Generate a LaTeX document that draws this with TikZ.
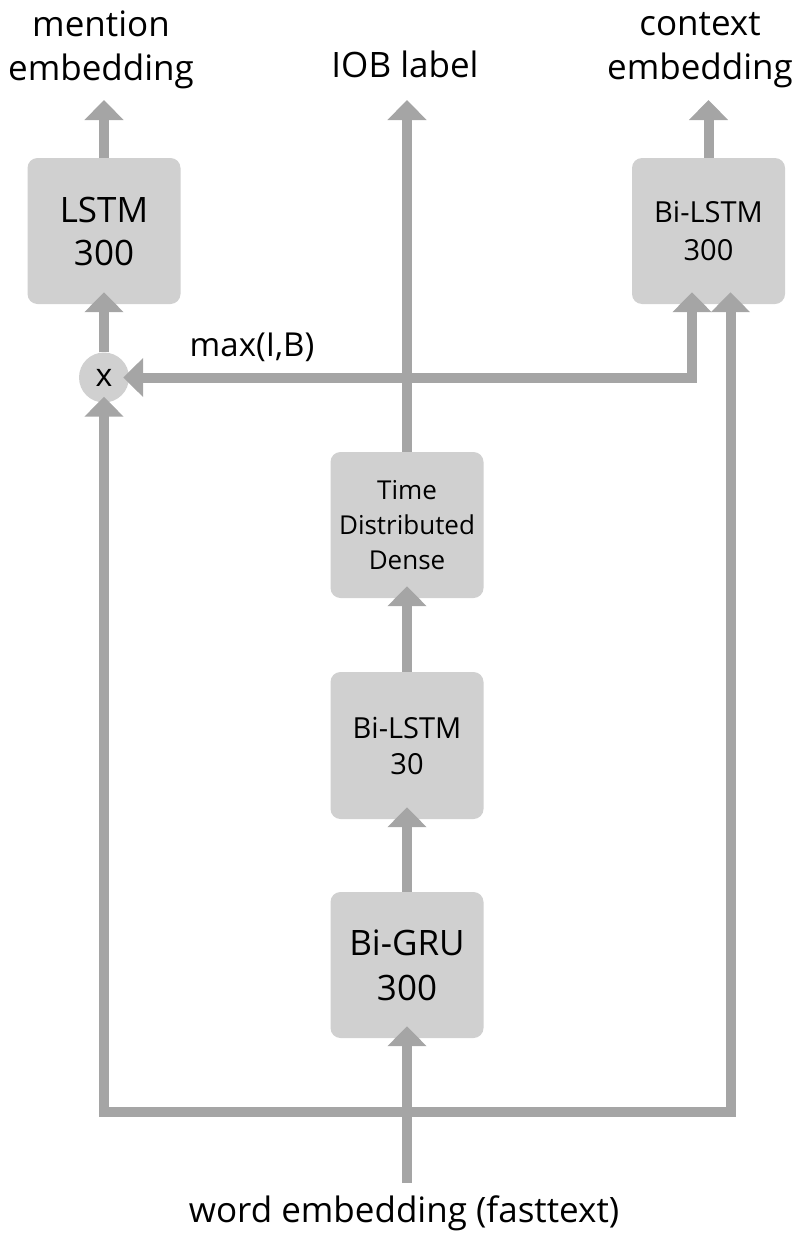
\documentclass[tikz,border=0pt]{standalone}
\usepackage{fontspec}
\setmainfont{Open Sans}
\usetikzlibrary{arrows.meta}
\definecolor{linegray}{HTML}{A5A5A5}
\definecolor{boxgray}{HTML}{D0D0D0}
\tikzset{
  layer/.style={fill=boxgray, draw=none, rounded corners=10pt, minimum width=153pt,
    minimum height=146pt, inner sep=0pt, align=center, text=black},
  mult/.style={circle, fill=boxgray, draw=none, minimum size=50pt, inner sep=0pt,
    font=\fontsize{32}{38}\selectfont},
  lbl/.style={align=center, inner sep=0pt, font=\fontsize{35}{44}\selectfont},
  flow/.style={draw=linegray, line width=10pt, line join=miter,
    -{Triangle[width=38pt,length=20pt]}},
}
\begin{document}
\begin{tikzpicture}[x=1pt,y=-1pt]
\useasboundingbox (0,0) rectangle (798,1234);

% layers
\node[layer, font=\fontsize{35}{43}\selectfont] (lstm) at (104,231) {LSTM\\300};
\node[layer, font=\fontsize{29}{38}\selectfont] (ctx) at (708.5,231) {Bi-LSTM\\300};
\node[layer, font=\fontsize{26}{35}\selectfont] (tdd) at (407,525) {Time\\Distributed\\Dense};
\node[layer, minimum height=147pt, font=\fontsize{29}{36}\selectfont] (bil) at (407,745.5) {Bi-LSTM\\30};
\node[layer, font=\fontsize{35}{45}\selectfont] (gru) at (407,965) {Bi-GRU\\300};
\node[mult] (x) at (104,377.5) {x};

% labels
\node[lbl] (ment) at (101,50) {mention\\embedding};
\node[lbl] (ctxl) at (700,50) {context\\embedding};
\node[lbl] (iob) at (405,64) {IOB label};
\node[lbl, font=\fontsize{33}{40}\selectfont] (maxl) at (252,347) {max(I,B)};
\node[lbl] (word) at (404,1213) {word embedding (fasttext)};

% arrow end points
\coordinate (mtip) at (104,100);
\coordinate (ctip) at (708.5,100);
\coordinate (itip) at (407,100);
\coordinate (mx) at (407,377.5);
\coordinate (split) at (407,1112);
\coordinate (wsrc) at (407,1183);

% outputs
\draw[flow] (lstm.north) -- (mtip);
\draw[flow] (ctx.north) -- (ctip);
\draw[flow] (tdd.north) -- (itip);

% main stack
\draw[flow] (wsrc) -- ([yshift=12pt]gru.south);
\draw[flow] (gru.north) -- ([yshift=12pt]bil.south);
\draw[flow] (bil.north) -- ([yshift=12pt]tdd.south);

% word embedding branches
\draw[flow] (split) -| ([yshift=6pt]x.south);
\draw[flow] (split) -| ([xshift=22pt,yshift=12pt]ctx.south);

% max(I,B) branches
\draw[flow] (mx) -- ([xshift=-6pt]x.east);
\draw[flow] (mx) -| ([xshift=-16.5pt,yshift=12pt]ctx.south);
\draw[flow] (x.north) -- ([yshift=12pt]lstm.south);
\end{tikzpicture}
\end{document}
